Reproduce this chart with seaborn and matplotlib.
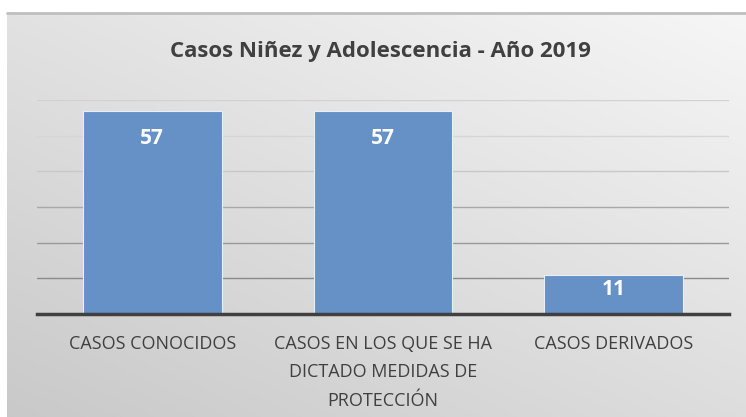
import numpy as np
import pandas as pd
import matplotlib
matplotlib.use("Agg")
import matplotlib.pyplot as plt
import seaborn as sns
from matplotlib.colors import LinearSegmentedColormap

categories = ["CASOS CONOCIDOS", "CASOS EN LOS QUE SE HA\nDICTADO MEDIDAS DE\nPROTECCIÓN", "CASOS DERIVADOS"]
values = [57, 57, 11]
title = "Casos Niñez y Adolescencia - Año 2019"
yticks = [0, 10, 20, 30, 40, 50, 60]

df = pd.DataFrame({"categoria": categories, "valor": values})

sns.set_theme(style="white")
plt.rcParams['font.family'] = ['Open Sans', 'DejaVu Sans']

W, H = 746, 417
fig = plt.figure(figsize=(W / 100, H / 100), dpi=100)
fig.patch.set_facecolor("white")

# gradient background panel
bg = fig.add_axes([7 / W, 0, (W - 7) / W, (H - 13) / H], zorder=0)
ny, nx = 200, 300
yy, xx = np.mgrid[0:1:ny * 1j, 0:1:nx * 1j]
t = (xx * 0.45 + (1 - yy) * 0.55)
cmap = LinearSegmentedColormap.from_list("g", ["#c9c9c9", "#f6f6f6"])
bg.imshow(t, cmap=cmap, aspect="auto", extent=[0, 1, 0, 1], origin="upper", vmin=0, vmax=1)
bg.set_axis_off()
fig.add_artist(plt.Line2D([7 / W, 1], [(H - 13) / H, (H - 13) / H], transform=fig.transFigure,
                          color="#bfbfbf", lw=2, zorder=1))

ax = fig.add_axes([37 / W, (H - 314) / H, (729 - 37) / W, (314 - 100) / H], zorder=2)
ax.patch.set_alpha(0)
sns.barplot(data=df, x="categoria", y="valor", color="#6591c7", width=0.6, ax=ax,
            edgecolor="#e8eef6", linewidth=0.8, saturation=1, zorder=3)
ax.set_ylim(0, 60)
ax.set_yticks(yticks)
ax.set_xlim(-0.5, 2.5)
grid_cols = ["#d2d2d2", "#d6d6d6", "#c8c8c8", "#a8a8a8", "#999999", "#8a8a8a"]
for yv, c in zip(yticks[1:][::-1], grid_cols):
    ax.axhline(yv, color=c, lw=1, zorder=1)
for s in ["top", "right", "left"]:
    ax.spines[s].set_visible(False)
ax.spines["bottom"].set_color("#404040")
ax.spines["bottom"].set_linewidth(2.5)
ax.spines["bottom"].set_zorder(4)
ax.tick_params(axis="y", left=False, labelleft=False)
ax.tick_params(axis="x", bottom=False, pad=9, labelsize=13, labelcolor="#404040")
for lbl in ax.get_xticklabels():
    lbl.set_linespacing(1.75)
    lbl.set_verticalalignment("top")
ax.set_xlabel("")
ax.set_ylabel("")

pads = [28, 28, 15]
for i, (v, p) in enumerate(zip(values, pads)):
    ax.annotate(str(v), (i, v), xytext=(0, -p * 0.72), textcoords="offset points",
                ha="center", va="center", color="white", fontsize=15, fontweight="bold",
                zorder=5)

fig.text(380 / W, 1 - 52 / H, title, ha="center", va="center", fontsize=16,
         fontweight="bold", color="#404040")

fig.savefig("out.png", dpi=100)
